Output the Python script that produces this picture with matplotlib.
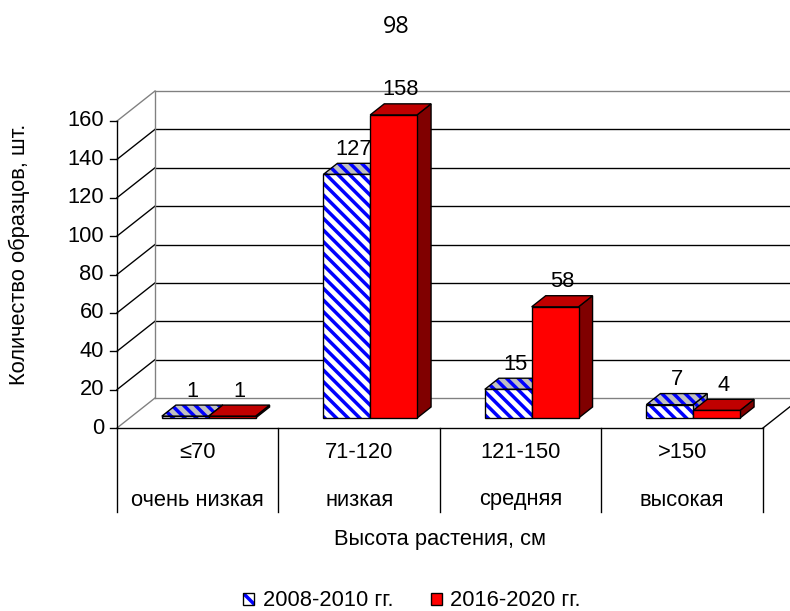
import matplotlib
matplotlib.use('Agg')
import matplotlib.pyplot as plt
from matplotlib.patches import Polygon, Patch
from matplotlib.legend_handler import HandlerTuple

# plant height classes
ranges = ['≤70', '71-120', '121-150', '>150']
groups = ['очень низкая', 'низкая', 'средняя', 'высокая']
y2008 = [1, 127, 15, 7]
y2020 = [1, 158, 58, 4]
series = ['2008-2010 гг.', '2016-2020 гг.']
yticks = [0, 20, 40, 60, 80, 100, 120, 140, 160]

DPI = 70
W, H = 790, 611
FS = 22.5
LW = 1.4
HATCH = '\\\\'

plt.rcParams['font.family'] = ['Liberation Sans', 'DejaVu Sans']
plt.rcParams['hatch.linewidth'] = 3.6

# front plane scale (px per category / px per unit) and origin in px
PX = 161.5
PY = 307 / 160
X0, Y0 = 117, 428
# depth of the walls, in data units
DX = 38 / PX
DY = 30 / PY
YMAX = yticks[-1]
TABLE = 84 / PY


def pt(x, y, d):
    return (x + d * DX, y + d * DY)


fig = plt.figure(figsize=(W / DPI, H / DPI), dpi=DPI)
ax = fig.add_axes([0, 0, 1, 1])
xmax = (W - X0) / PX
ax.set_xlim(-X0 / PX, xmax)
ax.set_ylim(-(H - Y0) / PY, Y0 / PY)
ax.axis('off')

# walls and gridlines
for v in yticks:
    c = '#808080' if v in (0, YMAX) else 'black'
    ax.plot([0, DX], [v, v + DY], color=c, lw=LW, zorder=1)
    ax.plot([DX, xmax + 1], [v + DY, v + DY], color=c, lw=LW, zorder=1)
    ax.plot([-7 / PX, 0], [v, v], color='black', lw=LW)
    ax.text(-13 / PX, v, str(v), ha='right', va='center', fontsize=FS)
ax.plot([DX, DX], [DY, YMAX + DY], color='#808080', lw=LW, zorder=1)
ax.plot([0, 0], [-TABLE, YMAX], color='black', lw=LW)
n = len(ranges)
ax.plot([0, n], [0, 0], color='black', lw=LW)
ax.plot([n, n + DX], [0, DY], color='black', lw=LW)

# category table under the floor
for i in range(1, n + 1):
    ax.plot([i, i], [0, -TABLE], color='black', lw=LW)
for i in range(n):
    ax.text(i + 0.5, -25 / PY, ranges[i], ha='center', va='center', fontsize=FS)
    ax.text(i + 0.5, -72 / PY, groups[i], ha='center', va='center', fontsize=FS)

ax.text(2.0, -112 / PY, 'Высота растения, см', ha='center', va='center', fontsize=FS)
ax.text(-98 / PX, 174 / PY, 'Количество образцов, шт.', ha='center', va='center',
        rotation=90, fontsize=FS)
fig.text(396 / W, 1 - 27 / H, '98', ha='center', va='center', fontsize=24,
         family=['Open Sans', 'DejaVu Sans'])

# 3D columns
G0, BW = 0.20, 0.29
D1, D2 = 0.33, 0.70
styles = [
    dict(front='white', top='#C0C0C0', side='#A0A0A0', hatch=True),
    dict(front='#FF0000', top='#C00000', side='#800000', hatch=False),
]


def face(verts, color, hatch):
    if hatch:
        ax.add_patch(Polygon(verts, facecolor=color, edgecolor='#0000FF',
                             hatch=HATCH, lw=0, zorder=3))
        ax.add_patch(Polygon(verts, fill=False, edgecolor='black', lw=LW,
                             joinstyle='miter', zorder=3))
    else:
        ax.add_patch(Polygon(verts, facecolor=color, edgecolor='black', lw=LW,
                             joinstyle='miter', zorder=3))


for i in range(n):
    for k, vals in enumerate([y2008, y2020]):
        st = styles[k]
        xa = i + G0 + k * BW
        xb = xa + BW
        v = vals[i]
        side = [pt(xb, 0, D1), pt(xb, 0, D2), pt(xb, v, D2), pt(xb, v, D1)]
        top = [pt(xa, v, D1), pt(xb, v, D1), pt(xb, v, D2), pt(xa, v, D2)]
        front = [pt(xa, 0, D1), pt(xb, 0, D1), pt(xb, v, D1), pt(xa, v, D1)]
        face(side, st['side'], st['hatch'])
        face(top, st['top'], st['hatch'])
        face(front, st['front'], st['hatch'])
        ax.text((xa + xb) / 2 + (D1 + D2) / 2 * DX, v + D2 * DY + 14 / PY, str(v),
                ha='center', va='center', fontsize=FS, zorder=4)

handles = [
    (Patch(facecolor='white', edgecolor='#0000FF', hatch='\\', lw=0),
     Patch(fill=False, edgecolor='black', lw=LW)),
    Patch(facecolor='#FF0000', edgecolor='black', lw=LW),
]
fig.legend(handles, series, loc='center', bbox_to_anchor=(412 / W, 1 - 601 / H),
           ncol=2, frameon=False, fontsize=FS, handlelength=0.5, handleheight=0.5,
           handletextpad=0.4, columnspacing=1.7,
           handler_map={tuple: HandlerTuple(ndivide=1, pad=0)})

fig.savefig('out.png', dpi=DPI)
